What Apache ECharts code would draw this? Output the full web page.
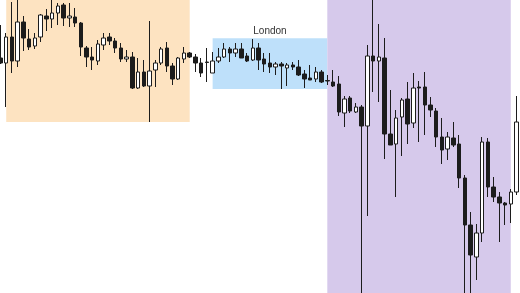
<!DOCTYPE html>
<html>
<head>
<meta charset="utf-8">
<script src="https://cdn.jsdelivr.net/npm/echarts@6/dist/echarts.min.js"></script>
<style>
html,body{margin:0;padding:0;background:#fff;}
#chart{width:520px;height:293px;}
</style>
</head>
<body>
<div id="chart"></div>
<script>
// Candle values (price)
const opens  = [1.1042,1.1037,1.1063,1.1039,1.1078,1.1061,1.1054,1.1063,1.1084,1.1081,
                1.1087,1.1095,1.1082,1.1083,1.1077,1.1052,1.1043,1.1039,1.1055,1.1063,
                1.1059,1.1052,1.1041,1.1043,1.1012,1.1028,1.1014,1.1030,1.1037,1.1052,
                1.1034,1.1021,1.1041,1.1047,1.1043,1.1037,1.1038,1.1027,1.1039,1.1043,
                1.1051,1.1047,1.1051,1.1044,1.1040,1.1052,1.1041,1.1037,1.1033,1.1036,
                1.1032,1.1035,1.1033,1.1026,1.1022,1.1021,1.1028,1.10195,1.1018,1.1016,
                1.0987,1.1002,1.0988,1.0993,1.0974,1.1044,1.1039,1.1042,1.0966,1.0956,
                1.0983,1.1001,1.0977,1.1013,1.1013,1.0995,1.0989,1.0963,1.0951,1.0962,
                1.0956,1.0922,1.0875,1.0843,1.0867,1.0958,1.0913,1.0903,1.0897,1.0896,
                1.0908];
const closes = [1.1037,1.1063,1.1039,1.1078,1.1062,1.1053,1.1062,1.1085,1.1081,1.1087,
                1.1094,1.1082,1.1084,1.1077,1.1053,1.1043,1.1040,1.1056,1.1062,1.1059,
                1.1052,1.1041,1.1043,1.1012,1.1028,1.1014,1.1029,1.1037,1.1051,1.1034,
                1.1021,1.1042,1.1047,1.1043,1.1037,1.1027,1.10375,1.1039,1.1043,1.1051,
                1.1047,1.1051,1.1042,1.1039,1.1052,1.1040,1.1036,1.1033,1.1036,1.1034,
                1.1035,1.1033,1.1025,1.1021,1.1020,1.1028,1.1018,1.1019,1.1014,1.0988,
                1.1001,1.0989,1.0993,1.0974,1.1044,1.1039,1.1043,1.0966,1.0955,1.0982,
                1.1000,1.0976,1.1012,1.1012,1.0995,1.0990,1.0963,1.0950,1.0963,1.0955,
                1.0922,1.0875,1.0845,1.0867,1.0958,1.0913,1.0903,1.0897,1.0895,1.0908,
                1.0978];
const lows   = [1.1036,1.0993,1.1027,1.1033,1.1049,1.1050,1.1051,1.1058,1.1069,1.1072,
                1.1075,1.1074,1.1073,1.1073,1.1044,1.1033,1.1030,1.1035,1.1050,1.1055,
                1.1047,1.1038,1.1038,1.1011,1.1011,1.1013,1.0978,1.1013,1.1035,1.1028,
                1.1015,1.1020,1.1037,1.1042,1.1028,1.1023,1.1018,1.1027,1.1037,1.1042,
                1.1038,1.1043,1.1042,1.1038,1.1039,1.1030,1.1028,1.1027,1.1025,1.1011,
                1.1014,1.1030,1.1024,1.1012,1.1020,1.1018,1.1017,1.1015,1.1013,1.0984,
                1.0973,1.0987,1.0987,1.0800,1.0884,1.1008,1.0998,1.0941,1.0955,1.0903,
                1.0944,1.0956,1.0972,1.0958,1.0965,1.0983,1.0953,1.0936,1.0940,1.0953,
                1.0912,1.0800,1.0800,1.0820,1.0858,1.0903,1.0898,1.0858,1.0875,1.0877,
                1.0905];
const highs  = [1.1075,1.1067,1.1098,1.1105,1.1084,1.1071,1.1067,1.1086,1.1091,1.1102,
                1.1097,1.1097,1.1097,1.1092,1.1078,1.1054,1.1053,1.1060,1.1067,1.1067,
                1.1062,1.1057,1.1050,1.1048,1.1042,1.1040,1.1079,1.1040,1.1053,1.1058,
                1.1037,1.1043,1.1053,1.1048,1.1046,1.1042,1.1052,1.1048,1.1052,1.1057,
                1.1053,1.1057,1.1057,1.1047,1.1061,1.1057,1.1047,1.1047,1.1038,1.1038,
                1.1037,1.1038,1.1040,1.1030,1.1035,1.1033,1.1030,1.1025,1.1030,1.1024,
                1.1004,1.1004,1.0997,1.0995,1.1055,1.1115,1.1076,1.1062,1.1010,1.0990,
                1.1002,1.1018,1.1027,1.1019,1.1028,1.1003,1.0992,1.0982,1.0968,1.0978,
                1.0965,1.0925,1.0888,1.0876,1.0963,1.0962,1.0923,1.0908,1.0898,1.0911,
                1.1004];
const categories = opens.map((_, i) => String(i));

// Session boxes: [startIndex, endIndex, topPrice, bottomPrice, name]
const sessionNames  = ['', 'London', ''];
const sessionStart  = [1, 37, 57];
const sessionEnd    = [33, 57, 89];
const sessionTop    = [1.1100, 1.10617, 1.1100];
const sessionBottom = [1.0978, 1.1011, 1.0807];
const sessionColors = ['#FDE3C1', '#BEE0FA', '#D6C9EB'];

const Y_MIN = 1.0807, Y_MAX = 1.1100;

const candleData = opens.map((o, i) => [o, closes[i], lows[i], highs[i]]);

const areas = sessionStart.map((s, k) => [
  {
    name: sessionNames[k],
    xAxis: categories[s],
    yAxis: sessionTop[k],
    itemStyle: { color: sessionColors[k], opacity: 1 },
    label: { show: sessionNames[k] !== '' }
  },
  { xAxis: categories[sessionEnd[k]], yAxis: sessionBottom[k] }
]);

const chart = echarts.init(document.getElementById('chart'), null, { renderer: 'canvas' });
chart.setOption({
  animation: false,
  backgroundColor: '#ffffff',
  grid: { left: 0.5, right: 3.5, top: 0, bottom: 0, containLabel: false },
  xAxis: {
    type: 'category',
    data: categories,
    boundaryGap: false,
    show: false
  },
  yAxis: {
    type: 'value',
    min: Y_MIN,
    max: Y_MAX,
    show: false,
    splitLine: { show: false }
  },
  series: [{
    type: 'candlestick',
    data: candleData,
    barWidth: 4,
    clip: true,
    itemStyle: {
      color: '#ffffff',
      color0: '#1c1c1c',
      borderColor: '#1c1c1c',
      borderColor0: '#1c1c1c',
      borderWidth: 1
    },
    markArea: {
      silent: true,
      label: {
        show: true,
        position: 'top',
        distance: 2,
        color: '#333333',
        fontSize: 10,
        fontFamily: 'Liberation Sans, Arial, sans-serif'
      },
      data: areas
    }
  }]
});
</script>
</body>
</html>
